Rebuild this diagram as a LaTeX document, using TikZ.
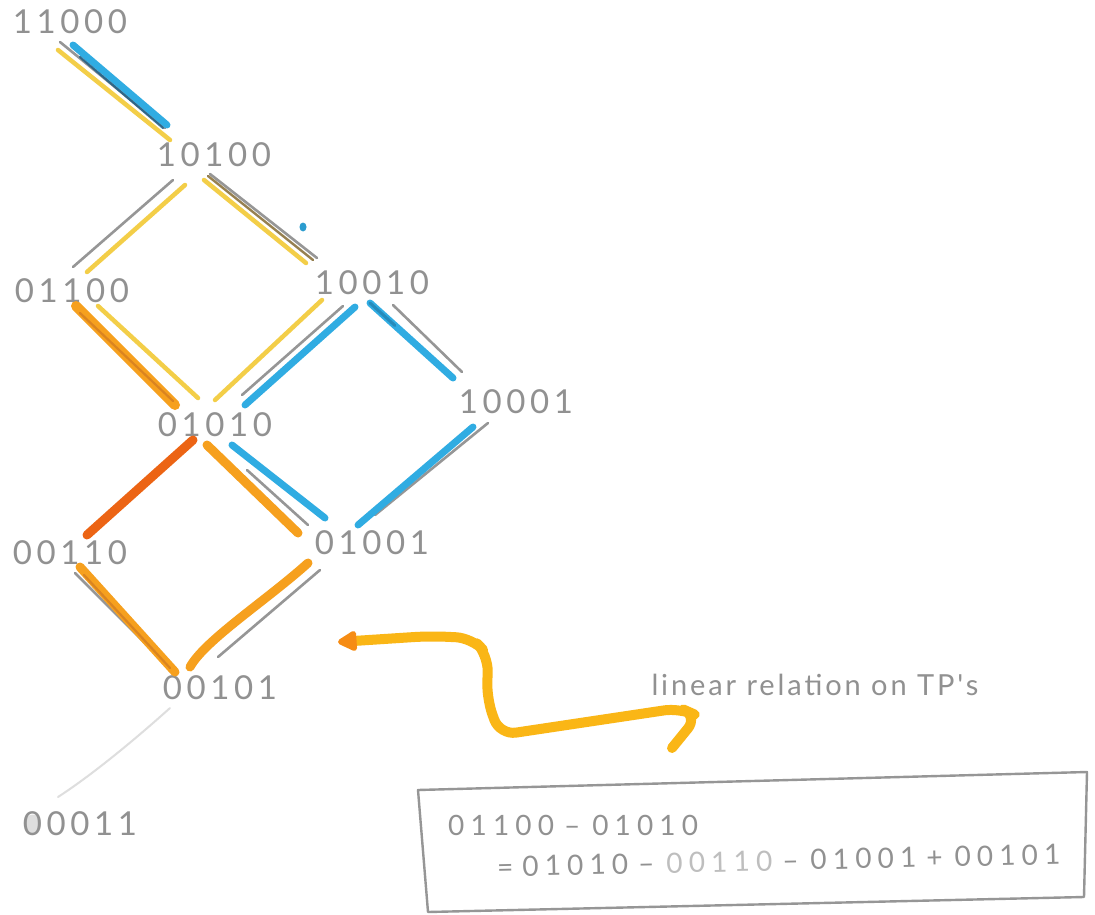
\documentclass[tikz,border=0pt]{standalone}
\usepackage{fontspec}
\usetikzlibrary{arrows.meta,calc}
\newfontfamily\hand[LetterSpace=14]{Lato}
\newfontfamily\handwide[LetterSpace=22]{Lato}
\newfontfamily\handnote[LetterSpace=10]{Lato}

\definecolor{pencil}{RGB}{150,150,150}
\definecolor{pencillight}{RGB}{222,222,222}
\definecolor{inktext}{RGB}{145,145,145}
\definecolor{inkpale}{RGB}{190,190,190}
\definecolor{yel}{RGB}{243,206,72}
\definecolor{orng}{RGB}{246,160,30}
\definecolor{orngdeep}{RGB}{236,100,20}
\definecolor{orngshade}{RGB}{195,110,35}
\definecolor{squig}{RGB}{250,182,22}
\definecolor{tipcol}{RGB}{246,140,20}
\definecolor{blu}{RGB}{48,172,226}
\definecolor{bludark}{RGB}{22,90,130}
\definecolor{olive}{RGB}{150,128,80}

\tikzset{
  lbl/.style={font=\hand\fontsize{33}{34}\selectfont, text=inktext, inner sep=0pt},
  boxtxt/.style={font=\handwide\fontsize{28}{29}\selectfont, text=inktext, inner sep=0pt},
  notetxt/.style={font=\handnote\fontsize{29}{30}\selectfont, text=inktext, inner sep=0pt},
  gline/.style={draw=pencil, line width=2.6pt, line cap=round},
  faint/.style={draw=pencillight, line width=2pt, line cap=round},
  yline/.style={draw=yel, line width=4.5pt, line cap=round},
  oline/.style={draw=orng, line width=9pt, line cap=round},
  rline/.style={draw=orngdeep, line width=9pt, line cap=round},
  shade/.style={draw=orngshade, line width=2.2pt, line cap=round, opacity=0.55},
  bline/.style={draw=blu, line width=7pt, line cap=round},
  bcore/.style={draw=bludark, line width=2.2pt, line cap=round, opacity=0.8},
  brline/.style={draw=olive, line width=2.4pt, line cap=round},
  squiggle/.style={draw=squig, line width=10pt, line cap=round, line join=round},
  boxline/.style={draw=pencil, line width=2.4pt, line join=round}
}
\newcommand{\opsep}[1]{\hspace{10pt}#1\hspace{12pt}}

\begin{document}
\begin{tikzpicture}[x=1pt,y=-1pt]
\fill[white] (0,0) rectangle (1095,915);
\useasboundingbox (0,0) rectangle (1095,915);

% lattice vertices
\node[lbl] (A) at (70,22)   {11000};
\node[lbl] (B) at (214,155) {10100};
\node[lbl] (C) at (72,291)  {01100};
\node[lbl] (D) at (372,283) {10010};
\node[lbl] (E) at (215,425) {01010};
\node[lbl] (F) at (516,402) {10001};
\node[lbl] (G) at (70,553)  {00110};
\node[lbl] (H) at (372,543) {01001};
\node[lbl] (I) at (220,688) {00101};
\path (80,824) node[lbl, text opacity=0] (J) {00011};
\fill[pencillight] ([xshift=10pt]J.west) ellipse (8 and 9.5);
\node[lbl] at (J.center) {00011};

% 11000 -- 10100
\draw[yline] ([shift={(-12,28)}]A.center) -- ([shift={(-44,-15)}]B.center);
\draw[gline] ([shift={(-10,20)}]A.center) -- ([shift={(-49,-27)}]B.center);
\draw[bline] ([shift={(3,23)}]A.center) -- ([shift={(-47,-30)}]B.center);
\draw[bcore] ([shift={(10,35)}]A.center) -- ([shift={(-51,-27)}]B.center);

% 10100 -- 01100
\draw[gline] ([shift={(-41,25)}]B.center) -- ([shift={(1,-24)}]C.center);
\draw[yline] ([shift={(-29,30)}]B.center) -- ([shift={(15,-19)}]C.center);

% 10100 -- 10010
\draw[yline] ([shift={(-10,25)}]B.center) -- ([shift={(-66,-20)}]D.center);
\draw[gline] ([shift={(-4,19)}]B.center) -- ([shift={(-55,-25)}]D.center);
\draw[brline] ([shift={(-6,21)}]B.center) -- ([shift={(-59,-23)}]D.center);
\fill[blu!80!bludark] (303,227) ellipse (3.5 and 4.5);

% 01100 -- 01010
\draw[oline, line width=10pt] ([shift={(4,15)}]C.center) -- ([shift={(-40,-20)}]E.center);
\draw[shade] ([shift={(8,22)}]C.center) -- ([shift={(-42,-24)}]E.center);
\draw[yline] ([shift={(26,15)}]C.center) -- ([shift={(-17,-27)}]E.center);

% 10010 -- 01010
\draw[yline] ([shift={(-50,17)}]D.center) -- ([shift={(0,-25)}]E.center);
\draw[gline] ([shift={(-29,23)}]D.center) -- ([shift={(27,-30)}]E.center);
\draw[bline] ([shift={(-17,24)}]D.center) -- ([shift={(30,-20)}]E.center);

% 10010 -- 10001
\draw[gline] ([shift={(21,22)}]D.center) -- ([shift={(-54,-30)}]F.center);
\draw[bline] ([shift={(-2,20)}]D.center) -- ([shift={(-63,-24)}]F.center);
\draw[bcore, opacity=0.4, line width=3pt] ([shift={(-2,20)}]D.center) -- ($([shift={(-2,20)}]D.center)!0.3!([shift={(-63,-24)}]F.center)$);

% 01010 -- 00110
\draw[rline] ([shift={(-22,15)}]E.center) -- ([shift={(17,-18)}]G.center);

% 01010 -- 01001
\draw[gline] ([shift={(32,45)}]E.center) -- ([shift={(-64,-18)}]H.center);
\draw[bline] ([shift={(17,20)}]E.center) -- ([shift={(-47,-25)}]H.center);
\draw[oline] ([shift={(-8,20)}]E.center) -- ([shift={(-74,-10)}]H.center);

% 10001 -- 01001
\draw[gline] ([shift={(-28,21)}]F.center) -- ([shift={(3,-28)}]H.center);
\draw[bline] ([shift={(-43,25)}]F.center) -- ([shift={(-14,-18)}]H.center);

% 00110 -- 00101
\draw[gline] ([shift={(5,20)}]G.center) -- ([shift={(-58,-28)}]I.center);
\draw[oline] ([shift={(10,14)}]G.center) -- ([shift={(-45,-16)}]I.center);
\draw[shade] ([shift={(14,22)}]G.center) -- ([shift={(-50,-20)}]I.center);

% 01001 -- 00101
\draw[gline] ([shift={(-52,27)}]H.center) -- ([shift={(-2,-31)}]I.center);
\draw[oline] ([shift={(-64,20)}]H.center) .. controls ([shift={(-105,57)}]H.center) and ([shift={(-15,-48)}]I.center) .. ([shift={(-30,-21)}]I.center);

% 00101 -- 00011
\draw[faint] ([shift={(-50,20)}]I.center) .. controls ([shift={(-80,47)}]I.center) and ([shift={(15,-51)}]J.center) .. ([shift={(-22,-27)}]J.center);

% note and its pointer
\node[notetxt] (note) at (815,685) {linear relation on TP's};
\coordinate (sqtail) at (672,748);
\coordinate (sqtip) at (338,642);
\draw[squiggle, rounded corners=16pt, -{Triangle[length=22pt 0, width=22pt 0, round, color=tipcol]}]
  (sqtail) -- (698,716) -- (680,708) -- (500,735) -- (487,700) -- (488,655) -- (472,638) -- (430,636) -- (sqtip);

% relation box
\coordinate (bx1) at (418,790);
\coordinate (bx2) at (1087,772);
\coordinate (bx3) at (1084,897);
\coordinate (bx4) at (428,912);
\draw[boxline] (bx1) -- (bx2) -- (bx3) -- (bx4) -- cycle;
\node[boxtxt, anchor=west] (eq1) at (448,825) {01100\opsep{–}01010};
\node[boxtxt, anchor=west, rotate=1.3] (eq2) at (497,867) {=\hspace{9pt}01010\opsep{–}{\color{inkpale}00110}\opsep{–}01001\opsep{+}00101};
\end{tikzpicture}
\end{document}
